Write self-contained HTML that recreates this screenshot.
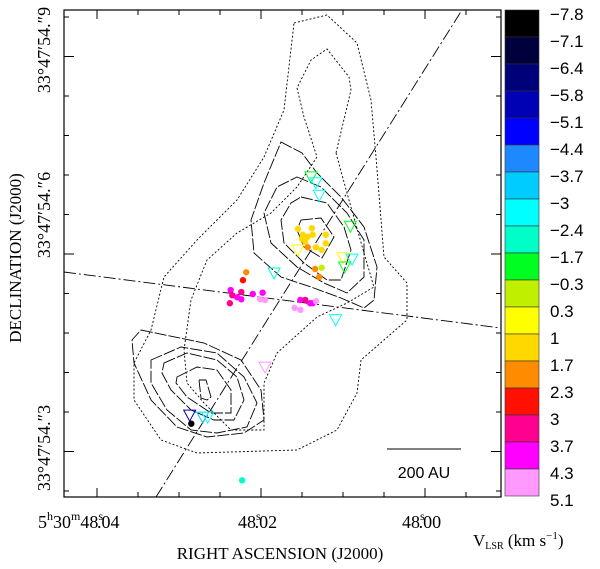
<!DOCTYPE html>
<html><head><meta charset="utf-8"><style>
html,body{margin:0;padding:0;background:#fff;}
svg{display:block;}
text{font-family:"Liberation Serif",serif;fill:#000;}
.cb{font-family:"Liberation Sans",sans-serif;font-size:17px;}
</style></head><body>
<svg id="chart" width="600" height="569" viewBox="0 0 600 569" xmlns="http://www.w3.org/2000/svg">
<rect width="600" height="569" fill="#fff"/>
<g id="contours" fill="none" stroke="#000" stroke-width="0.9">
<g stroke-dasharray="2,2">
<path d="M294,23 L327,15 L357,43 L371,100 L376,157 L384,257 L407,283 L407,320 L361,360 L357,393 L337,430 L297,450 L197,453 L161,440 L134,400 L134,363 L151,330 L164,277 L197,240 L237,200 L264,157 L284,110 Z"/>
<path d="M336,153 L347,193 L364,253 L374,287 L347,303 L317,317 L277,353 L264,383 L264,430 L231,430 L204,403 L187,383 L184,350 L191,300 L207,260 L237,233 L271,213 L297,187 L317,157 L304,117 L297,88 L311,60 L327,49 L349,77 L351,90 Z"/>
</g>
<g stroke-dasharray="12,2">
<path d="M281,142 L302,153 L317,173 L341,197 L364,227 L377,267 L374,300 L364,308 L341,298 L311,287 L281,277 L254,253 L251,220 L264,183 Z"/>
<path d="M297,177 L321,187 L347,213 L364,240 L364,277 L347,293 L324,283 L297,267 L271,243 L264,213 L277,187 Z"/>
<path d="M301,197 L327,203 L344,227 L351,250 L341,280 L327,280 L304,263 L284,243 L281,220 L291,203 Z"/>
<path d="M301,220 L321,218 L334,237 L322,258 L304,247 L297,230 Z"/>
<path d="M141,330 L204,343 L241,360 L261,390 L264,420 L244,433 L207,437 L177,427 L151,400 L134,363 L132,340 Z"/>
<path d="M151,360 L181,347 L217,353 L244,377 L257,403 L247,427 L217,433 L191,430 L167,410 L151,383 Z"/>
<path d="M164,363 L187,353 L217,360 L237,377 L244,400 L234,420 L214,420 L191,410 L171,390 L162,373 Z"/>
<path d="M177,377 L197,367 L217,370 L231,390 L231,413 L211,413 L187,397 L176,383 Z"/>
<path d="M199,380 L206,380 L211,397 L207,400 L201,398 Z"/>
</g>
</g>
<g stroke="#000" stroke-width="0.9" stroke-dasharray="12,3,2,3" fill="none">
<line x1="156" y1="497" x2="462" y2="10"/>
<line x1="64" y1="272" x2="501" y2="328"/>
</g>
<g id="marks"></g>
<g>
<line x1="387" y1="449" x2="461" y2="449" stroke="#000" stroke-width="1"/>
<text x="424" y="478" font-size="16" text-anchor="middle" style="font-family:'Liberation Sans',sans-serif">200 AU</text>
</g>
<rect x="64" y="10" width="437" height="487" fill="none" stroke="#000" stroke-width="1.2"/>
<g id="ticks" stroke="#000" stroke-width="1"></g>
<g id="cbar"></g>
<g font-size="18">
<text x="38" y="528">5<tspan font-size="12" dy="-8">h</tspan><tspan dy="8">30</tspan><tspan font-size="12" dy="-8">m</tspan><tspan dy="8">48</tspan><tspan font-size="12" dy="-8">s</tspan><tspan dx="-6" dy="8">.04</tspan></text>
<text x="238" y="528">48<tspan font-size="12" dy="-8">s</tspan><tspan dx="-6" dy="8">.02</tspan></text>
<text x="402" y="528">48<tspan font-size="12" dy="-8">s</tspan><tspan dx="-6" dy="8">.00</tspan></text>
</g>
<g font-size="18">
<text transform="translate(50,50) rotate(-90)" text-anchor="middle">33°47′54.″9</text>
<text transform="translate(50,215) rotate(-90)" text-anchor="middle">33°47′54.″6</text>
<text transform="translate(50,448) rotate(-90)" text-anchor="middle">33°47′54.″3</text>
</g>
<text x="280" y="559" font-size="17" text-anchor="middle">RIGHT ASCENSION (J2000)</text>
<text transform="translate(21,258) rotate(-90)" font-size="17" text-anchor="middle">DECLINATION (J2000)</text>
<text x="473" y="546" font-size="17">V<tspan font-size="10" dy="3">LSR</tspan><tspan dy="-3"> (km  s</tspan><tspan font-size="11" dy="-7">−1</tspan><tspan dy="7">)</tspan></text>
</svg>
<script>
// Data: RA in ms of time past 48.00 s, Dec in mas past 54.3", velocity km/s
const circleRA  = [15.5,13.8,14.9,14.3,13.7,12.1,12.1,15.0,13.3,12.6,14.6,14.3,13.4,12.6,12.9,21.8,22.2,23.7,22.4,23.5,22.9,22.4,23.8,21.0,19.8,20.1,19.5,15.2,14.6,14.0,13.7,13.3,15.9,15.2,28.5,22.3];
const circleDec = [339,340,330,327,330,330,317,324,311,307,319,311,278,280,266,273,261,246,243,238,235,232,226,240,242,232,231,231,231,226,226,229,219,216,43,-43];
const circleV   = [1.2,1.2,1.3,1.2,1.1,1.3,1.2,1.4,1.2,1.3,1.1,2.0,2.0,0.0,2.0,2.0,2.6,4.0,3.4,3.4,4.0,4.0,3.4,4.0,4.0,4.7,4.7,4.0,3.4,4.0,4.0,4.7,4.7,4.7,-7.3,-2.1];
const triRA  = [13.9,13.3,12.9,9.1,10.0,8.9,9.8,15.5,18.4,10.9,19.5,28.7,27.1,26.5];
const triDec = [418,409,390,343,295,293,281,307,272,201,129,56,53,53];
const triV   = [-1.0,-2.7,-2.7,-1.0,0.6,-2.7,-1.0,0.6,-2.0,-2.7,4.7,-5.3,-3.3,-2.7];
const cbLabels = ["−7.8","−7.1","−6.4","−5.8","−5.1","−4.4","−3.7","−3","−2.4","−1.7","−0.3","0.3","1","1.7","2.3","3","3.7","4.3","5.1"];
const cbEdges  = [-7.8,-7.1,-6.4,-5.8,-5.1,-4.4,-3.7,-3,-2.4,-1.7,-0.3,0.3,1,1.7,2.3,3,3.7,4.3,5.1];
const cbColors = ["#000000","#00003c","#000078","#0000b4","#0000ff","#1e88ff","#00ccff","#00ffff","#00ffc8","#00ff20","#c0f000","#ffff00","#ffd800","#ff8c00","#ff1000","#ff0090","#ff00ff","#ff99ff"];

const NS = "http://www.w3.org/2000/svg";
function xScale(ra){ return 425 - ra*8.2; }
function yScale(dec){ return 452 - dec*0.6583; }
function colorOf(v){
  for(let k=0;k<cbEdges.length-1;k++){ if(v>=cbEdges[k] && v<cbEdges[k+1]) return cbColors[k]; }
  return v<cbEdges[0]?cbColors[0]:cbColors[cbColors.length-1];
}
const marks=document.getElementById('marks');
for(let i=0;i<triRA.length;i++){
  const x=xScale(triRA[i]), y=yScale(triDec[i]);
  const p=document.createElementNS(NS,'polygon');
  p.setAttribute('points',`${x-6},${y-5} ${x+6},${y-5} ${x},${y+6}`);
  p.setAttribute('fill','none');p.setAttribute('stroke',colorOf(triV[i]));p.setAttribute('stroke-width','1');
  
  
  marks.appendChild(p);
}
for(let i=0;i<circleRA.length;i++){
  const c=document.createElementNS(NS,'circle');
  c.setAttribute('cx',xScale(circleRA[i]));c.setAttribute('cy',yScale(circleDec[i]));c.setAttribute('r','3.2');
  c.setAttribute('fill',colorOf(circleV[i]));
  
  
  marks.appendChild(c);
}
const ticks=document.getElementById('ticks');
function tk(x1,y1,x2,y2){const l=document.createElementNS(NS,'line');l.setAttribute('x1',x1);l.setAttribute('y1',y1);l.setAttribute('x2',x2);l.setAttribute('y2',y2);
  
  
  ticks.appendChild(l);}
for(let k=0;k<10;k++){const x=97+k*41;const len=(k%4===0)?9:5;tk(x,497,x,497-len);tk(x,10,x,10+len);}
for(let k=0;k<13;k++){const y=17+k*39.5;const len=(k===1||k===6||k===11)?10:5;tk(64,y,64+len,y);tk(501,y,501-len,y);}
const cb=document.getElementById('cbar');
const cbTop=10, cbH=27;
for(let k=0;k<cbColors.length;k++){
  const r=document.createElementNS(NS,'rect');
  r.setAttribute('x',505);r.setAttribute('y',cbTop+k*cbH);r.setAttribute('width',34);r.setAttribute('height',cbH);
  r.setAttribute('fill',cbColors[k]);r.setAttribute('stroke','#333');r.setAttribute('stroke-width','0.6');
  
  
  cb.appendChild(r);
}
for(let k=0;k<cbLabels.length;k++){
  const t=document.createElementNS(NS,'text');
  t.setAttribute('x',550);t.setAttribute('y',cbTop+k*cbH+10);t.setAttribute('class','cb');
  t.textContent=cbLabels[k];
  
  
  cb.appendChild(t);
}
</script>
</body></html>
